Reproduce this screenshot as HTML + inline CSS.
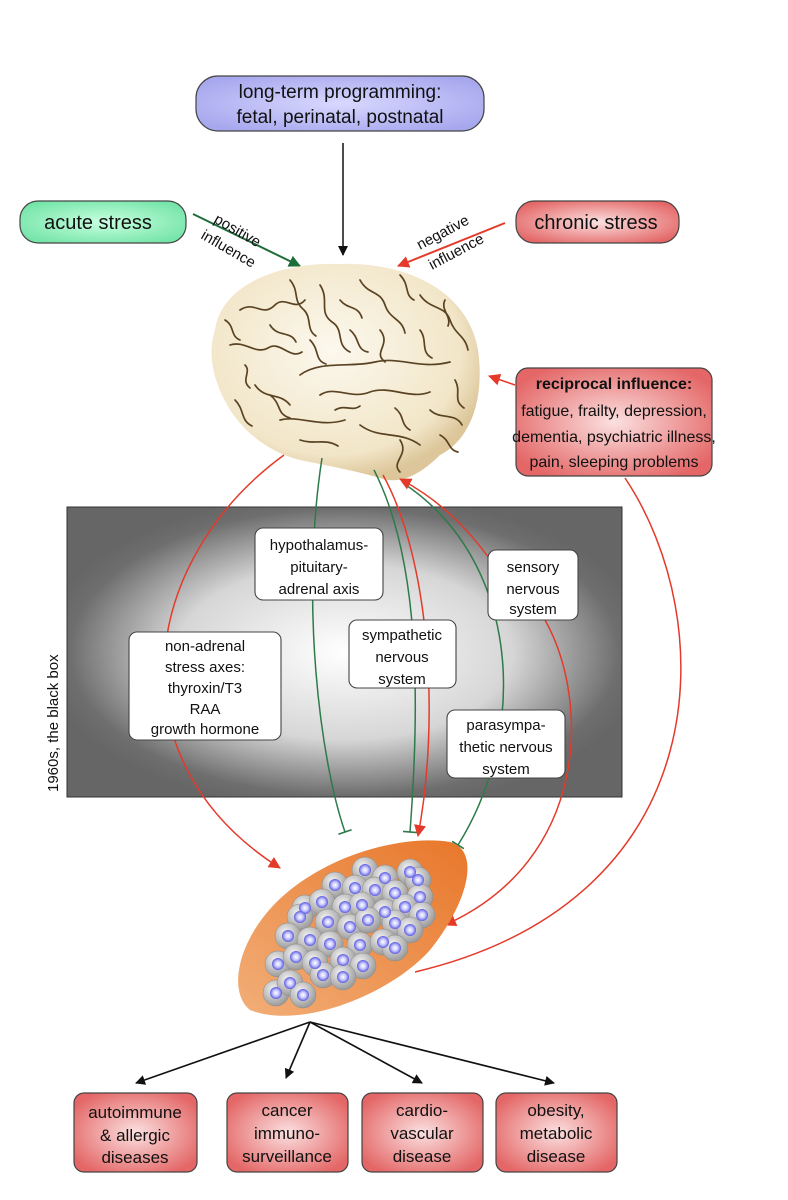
<!DOCTYPE html>
<html><head><meta charset="utf-8"><style>
html,body{margin:0;padding:0;background:#fff;width:788px;height:1200px;overflow:hidden}
svg{display:block}
text{font-family:"Liberation Sans",sans-serif;fill:#111}
</style></head><body>
<svg width="788" height="1200" viewBox="0 0 788 1200" xmlns="http://www.w3.org/2000/svg">
<defs>
<radialGradient id="gPur" cx="50%" cy="50%" r="60%"><stop offset="0" stop-color="#d8d8ff"/><stop offset="1" stop-color="#a7a7ee"/></radialGradient>
<radialGradient id="gGrn" cx="50%" cy="50%" r="60%"><stop offset="0" stop-color="#c8ffe0"/><stop offset="1" stop-color="#74e4a8"/></radialGradient>
<radialGradient id="gRed" cx="50%" cy="50%" r="60%"><stop offset="0" stop-color="#fbe0e0"/><stop offset="1" stop-color="#e46666"/></radialGradient>
<radialGradient id="gBox" cx="50%" cy="50%" r="55%"><stop offset="0" stop-color="#ffffff"/><stop offset="0.55" stop-color="#d6d6d6"/><stop offset="0.9" stop-color="#6e6e6e"/><stop offset="1" stop-color="#666"/></radialGradient>
<linearGradient id="gOr" x1="0" y1="1" x2="1" y2="0"><stop offset="0" stop-color="#f2ae78"/><stop offset="1" stop-color="#e8772a"/></linearGradient>
<radialGradient id="gCell" cx="40%" cy="35%" r="65%"><stop offset="0" stop-color="#f4f4f4"/><stop offset="1" stop-color="#9a9a9a"/></radialGradient>
<radialGradient id="gNuc" cx="50%" cy="50%" r="50%"><stop offset="0" stop-color="#ffffff"/><stop offset="0.5" stop-color="#c8c8ff"/><stop offset="1" stop-color="#5a5ae0"/></radialGradient>
<radialGradient id="gBrain" cx="45%" cy="40%" r="60%"><stop offset="0" stop-color="#fcf8ee"/><stop offset="0.8" stop-color="#f2e6c8"/><stop offset="1" stop-color="#dcc69a"/></radialGradient>
<marker id="aBk" markerWidth="10" markerHeight="10" refX="9" refY="5" orient="auto" markerUnits="userSpaceOnUse"><path d="M0,0 L10,5 L0,10 z" fill="#111"/></marker>
<marker id="aRd" markerWidth="12" markerHeight="12" refX="11" refY="6" orient="auto" markerUnits="userSpaceOnUse"><path d="M0,0 L12,6 L0,12 z" fill="#e43a2a"/></marker>
<marker id="aGn" markerWidth="12" markerHeight="12" refX="11" refY="6" orient="auto" markerUnits="userSpaceOnUse"><path d="M0,0 L12,6 L0,12 z" fill="#1e6e3a"/></marker>
<marker id="tGn" markerWidth="14" markerHeight="14" refX="7" refY="7" orient="auto" markerUnits="userSpaceOnUse"><path d="M7,0 L7,14" stroke="#2e7a4a" stroke-width="1.6"/></marker>
</defs>

<rect x="196" y="76" width="288" height="55" rx="22" fill="url(#gPur)" stroke="#444" stroke-width="1.2"/>
<text x="340" y="98" font-size="19" text-anchor="middle">long-term programming:</text>
<text x="340" y="123" font-size="19" text-anchor="middle">fetal, perinatal, postnatal</text>
<line x1="343" y1="143" x2="343" y2="255" stroke="#111" stroke-width="1.5" marker-end="url(#aBk)"/>

<rect x="20" y="201" width="166" height="42" rx="18" fill="url(#gGrn)" stroke="#444" stroke-width="1.2"/>
<text x="98" y="229" font-size="20" text-anchor="middle">acute stress</text>
<rect x="516" y="201" width="163" height="42" rx="18" fill="url(#gRed)" stroke="#444" stroke-width="1.2"/>
<text x="596" y="229" font-size="20" text-anchor="middle">chronic stress</text>

<line x1="193" y1="214" x2="300" y2="266" stroke="#1e6e3a" stroke-width="2" marker-end="url(#aGn)"/>
<text transform="translate(213,222) rotate(30)" font-size="15">positive</text>
<text transform="translate(200,238) rotate(30)" font-size="15">influence</text>
<line x1="505" y1="223" x2="398" y2="266" stroke="#e43a2a" stroke-width="2" marker-end="url(#aRd)"/>
<text transform="translate(420,250) rotate(-28)" font-size="15">negative</text>
<text transform="translate(432,270) rotate(-28)" font-size="15">influence</text>

<rect x="67" y="507" width="555" height="290" fill="url(#gBox)" stroke="#333"/>
<text transform="translate(58,792) rotate(-90)" font-size="15">1960s, the black box</text>

<g>
<path d="M215,330 C220,290 270,262 340,264 C420,262 470,300 478,350 C485,400 470,440 440,455 C420,475 400,485 380,478 C360,472 330,466 300,460 C260,450 230,420 218,385 C210,365 210,345 215,330 z" fill="url(#gBrain)"/>
<g fill="none" stroke="#5a4322" stroke-width="1.7" stroke-linecap="round">
<path d="M240,310 C255,300 262,318 275,305 C285,295 295,312 305,300"/>
<path d="M320,285 C330,300 318,312 332,322 C345,330 335,345 350,352"/>
<path d="M360,280 C368,295 380,290 385,305 C390,320 402,318 405,333"/>
<path d="M420,295 C430,310 445,305 450,320 C455,335 465,335 468,350"/>
<path d="M230,345 C245,340 255,355 268,348 C280,340 290,360 302,352"/>
<path d="M300,375 C320,360 350,368 375,362 C400,356 420,370 450,362"/>
<path d="M255,385 C265,400 280,392 290,405"/>
<path d="M320,395 C335,385 350,400 370,392 C390,385 410,400 430,392"/>
<path d="M280,420 C300,415 320,428 345,420"/>
<path d="M360,425 C380,440 400,430 420,445"/>
<path d="M270,325 C278,338 290,330 296,342"/>
<path d="M380,330 C392,345 372,352 385,362"/>
<path d="M430,410 C440,420 455,412 462,425"/>
<path d="M245,365 C252,372 240,380 250,388"/>
<path d="M340,300 C348,310 358,305 362,318"/>
<path d="M400,440 C410,455 390,462 400,472"/>
<path d="M290,280 C300,292 292,300 304,310 C312,318 306,330 316,336"/>
<path d="M400,275 C410,285 404,295 414,300"/>
<path d="M445,300 C440,310 452,316 448,326"/>
<path d="M225,320 C235,326 230,336 240,340"/>
<path d="M310,340 C320,350 314,360 326,364"/>
<path d="M350,330 C360,338 356,350 368,352"/>
<path d="M420,330 C428,340 420,352 432,358"/>
<path d="M455,380 C462,392 452,400 464,408"/>
<path d="M235,400 C245,410 240,420 252,426"/>
<path d="M300,440 C315,445 325,438 338,446"/>
<path d="M270,395 C282,404 276,414 290,418"/>
<path d="M335,410 C345,404 352,412 360,406"/>
<path d="M395,408 C405,416 400,424 410,430"/>
<path d="M440,435 C450,440 448,450 458,452"/>
</g>
</g>

<rect x="516" y="368" width="196" height="108" rx="12" fill="url(#gRed)" stroke="#444" stroke-width="1.2"/>
<text x="614" y="389" font-size="16" font-weight="bold" text-anchor="middle">reciprocal influence:</text>
<text x="614" y="416" font-size="16" text-anchor="middle">fatigue, frailty, depression,</text>
<text x="614" y="442" font-size="16" text-anchor="middle">dementia, psychiatric illness,</text>
<text x="614" y="467" font-size="16" text-anchor="middle">pain, sleeping problems</text>
<line x1="515" y1="385" x2="489" y2="376" stroke="#e43a2a" stroke-width="1.5" marker-end="url(#aRd)"/>
<path d="M625,478 C720,620 720,900 415,972" fill="none" stroke="#e43a2a" stroke-width="1.5"/>

<g fill="none" stroke-width="1.5">
<path d="M284,455 C140,560 110,760 280,868" stroke="#e43a2a" marker-end="url(#aRd)"/>
<path d="M322,458 C300,600 320,760 345,832" stroke="#2e7a4a" marker-end="url(#tGn)"/>
<path d="M374,470 C420,560 420,700 410,832" stroke="#2e7a4a" marker-end="url(#tGn)"/>
<path d="M383,475 C430,560 440,720 418,836" stroke="#e43a2a" marker-end="url(#aRd)"/>
<path d="M403,483 C520,560 530,730 458,845" stroke="#2e7a4a" marker-end="url(#tGn)"/>
<path d="M496,568 C470,530 440,500 400,479" stroke="#e43a2a" marker-end="url(#aRd)"/>
<path d="M545,620 C590,700 590,860 445,925" stroke="#e43a2a" marker-end="url(#aRd)"/>
</g>

<g stroke="#444" stroke-width="1.1" fill="#fff">
<rect x="255" y="528" width="128" height="72" rx="8"/>
<rect x="488" y="550" width="90" height="70" rx="8"/>
<rect x="349" y="620" width="107" height="68" rx="8"/>
<rect x="129" y="632" width="152" height="108" rx="8"/>
<rect x="447" y="710" width="118" height="68" rx="8"/>
</g>
<g font-size="15" text-anchor="middle">
<text x="319" y="550">hypothalamus-</text><text x="319" y="572">pituitary-</text><text x="319" y="594">adrenal axis</text>
<text x="533" y="572">sensory</text><text x="533" y="594">nervous</text><text x="533" y="614">system</text>
<text x="402" y="640">sympathetic</text><text x="402" y="662">nervous</text><text x="402" y="684">system</text>
<text x="205" y="651">non-adrenal</text><text x="205" y="672">stress axes:</text><text x="205" y="693">thyroxin/T3</text><text x="205" y="714">RAA</text><text x="205" y="734">growth hormone</text>
<text x="506" y="730">parasympa-</text><text x="506" y="752">thetic nervous</text><text x="506" y="774">system</text>
</g>

<path d="M250,1010 C225,990 240,930 290,890 C340,850 410,835 450,842 C480,850 470,900 430,950 C390,995 300,1030 250,1010 z" fill="url(#gOr)"/>
<g fill="url(#gCell)" stroke="#8a8a8a" stroke-width="0.5">
<circle cx="365" cy="870" r="13"/><circle cx="385" cy="878" r="13"/><circle cx="410" cy="872" r="13"/><circle cx="418" cy="880" r="13"/>
<circle cx="335" cy="885" r="13"/><circle cx="355" cy="888" r="13"/><circle cx="375" cy="890" r="13"/><circle cx="395" cy="893" r="13"/><circle cx="420" cy="897" r="13"/>
<circle cx="305" cy="908" r="13"/><circle cx="322" cy="902" r="13"/><circle cx="345" cy="907" r="13"/><circle cx="362" cy="905" r="13"/><circle cx="385" cy="912" r="13"/><circle cx="405" cy="907" r="13"/><circle cx="422" cy="915" r="13"/>
<circle cx="300" cy="917" r="13"/><circle cx="328" cy="922" r="13"/><circle cx="350" cy="927" r="13"/><circle cx="368" cy="920" r="13"/><circle cx="395" cy="923" r="13"/><circle cx="410" cy="930" r="13"/>
<circle cx="288" cy="936" r="13"/><circle cx="310" cy="940" r="13"/><circle cx="330" cy="944" r="13"/><circle cx="360" cy="945" r="13"/><circle cx="383" cy="942" r="13"/><circle cx="395" cy="948" r="13"/>
<circle cx="278" cy="964" r="13"/><circle cx="296" cy="957" r="13"/><circle cx="315" cy="963" r="13"/><circle cx="343" cy="960" r="13"/><circle cx="363" cy="966" r="13"/>
<circle cx="276" cy="993" r="13"/><circle cx="290" cy="983" r="13"/><circle cx="303" cy="995" r="13"/><circle cx="323" cy="975" r="13"/><circle cx="343" cy="977" r="13"/>
</g>
<g fill="url(#gNuc)">
<circle cx="365" cy="870" r="6"/><circle cx="385" cy="878" r="6"/><circle cx="410" cy="872" r="6"/><circle cx="418" cy="880" r="6"/>
<circle cx="335" cy="885" r="6"/><circle cx="355" cy="888" r="6"/><circle cx="375" cy="890" r="6"/><circle cx="395" cy="893" r="6"/><circle cx="420" cy="897" r="6"/>
<circle cx="305" cy="908" r="6"/><circle cx="322" cy="902" r="6"/><circle cx="345" cy="907" r="6"/><circle cx="362" cy="905" r="6"/><circle cx="385" cy="912" r="6"/><circle cx="405" cy="907" r="6"/><circle cx="422" cy="915" r="6"/>
<circle cx="300" cy="917" r="6"/><circle cx="328" cy="922" r="6"/><circle cx="350" cy="927" r="6"/><circle cx="368" cy="920" r="6"/><circle cx="395" cy="923" r="6"/><circle cx="410" cy="930" r="6"/>
<circle cx="288" cy="936" r="6"/><circle cx="310" cy="940" r="6"/><circle cx="330" cy="944" r="6"/><circle cx="360" cy="945" r="6"/><circle cx="383" cy="942" r="6"/><circle cx="395" cy="948" r="6"/>
<circle cx="278" cy="964" r="6"/><circle cx="296" cy="957" r="6"/><circle cx="315" cy="963" r="6"/><circle cx="343" cy="960" r="6"/><circle cx="363" cy="966" r="6"/>
<circle cx="276" cy="993" r="6"/><circle cx="290" cy="983" r="6"/><circle cx="303" cy="995" r="6"/><circle cx="323" cy="975" r="6"/><circle cx="343" cy="977" r="6"/>
</g>

<g stroke="#111" stroke-width="1.6" fill="none">
<line x1="310" y1="1022" x2="136" y2="1083" marker-end="url(#aBk)"/>
<line x1="310" y1="1022" x2="286" y2="1078" marker-end="url(#aBk)"/>
<line x1="310" y1="1022" x2="422" y2="1083" marker-end="url(#aBk)"/>
<line x1="310" y1="1022" x2="554" y2="1083" marker-end="url(#aBk)"/>
</g>

<g stroke="#444" stroke-width="1.2" fill="url(#gRed)">
<rect x="74" y="1093" width="123" height="79" rx="10"/>
<rect x="227" y="1093" width="121" height="79" rx="10"/>
<rect x="362" y="1093" width="121" height="79" rx="10"/>
<rect x="496" y="1093" width="121" height="79" rx="10"/>
</g>
<g font-size="17" text-anchor="middle">
<text x="135" y="1118">autoimmune</text><text x="135" y="1141">&amp; allergic</text><text x="135" y="1163">diseases</text>
<text x="287" y="1116">cancer</text><text x="287" y="1139">immuno-</text><text x="287" y="1162">surveillance</text>
<text x="422" y="1116">cardio-</text><text x="422" y="1139">vascular</text><text x="422" y="1162">disease</text>
<text x="556" y="1116">obesity,</text><text x="556" y="1139">metabolic</text><text x="556" y="1162">disease</text>
</g>
</svg>
</body></html>
